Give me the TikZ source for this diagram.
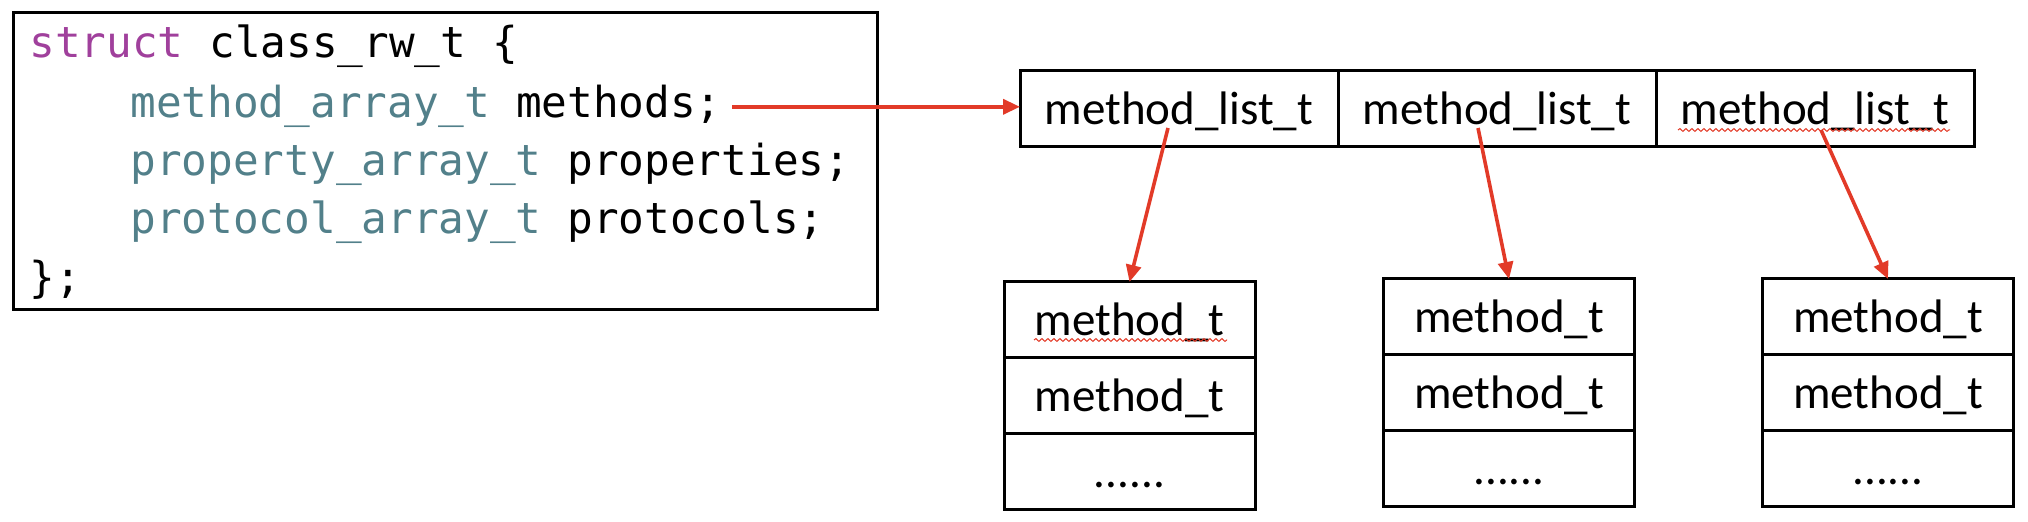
\documentclass[tikz,border=0pt]{standalone}
\usepackage{fontspec}
\usepackage{tikz}
\usetikzlibrary{positioning,arrows.meta,decorations.pathmorphing}
\newfontfamily\codefont{DejaVu Sans Mono}
\newfontfamily\boxfont{Carlito}
\definecolor{kwpurple}{RGB}{160,64,156}
\definecolor{typeteal}{RGB}{82,128,138}
\definecolor{arrowred}{RGB}{226,58,40}
\tikzset{
	codeline/.style={anchor=base west,inner sep=0pt,font=\codefont\fontsize{21.35}{25}\selectfont},
	listcell/.style={draw,line width=1.5pt,minimum width=159pt,minimum height=38pt,inner sep=0pt,outer sep=0pt,text height=16pt,text depth=0pt,font=\boxfont\fontsize{23.5}{27}\selectfont},
	methcell/.style={listcell,minimum width=125.5pt},
	ptr/.style={draw=arrowred,line width=1.8pt,-{Triangle[length=8.5pt,width=7.5pt]}},
	spell/.style={draw=arrowred,line width=0.5pt,decorate,decoration={snake,segment length=3pt,amplitude=0.7pt}}
}
\begin{document}
\begin{tikzpicture}[x=0.5pt,y=-0.5pt]
	\useasboundingbox (0,0) rectangle (2028,522);
	% the struct
	\draw[line width=1.5pt] (13,13) rectangle (877,310);
	\node[codeline] (ln1) at (29,58) {\textcolor{kwpurple}{struct} class\_rw\_t \{};
	\node[codeline] (ln2) at (130,118) {\textcolor{typeteal}{method\_array\_t} methods;};
	\node[codeline] (ln3) at (130,176) {\textcolor{typeteal}{property\_array\_t} properties;};
	\node[codeline] (ln4) at (130,234) {\textcolor{typeteal}{protocol\_array\_t} protocols;};
	\node[codeline] (ln5) at (29,293) {\};};
	% the array of lists
	\node[listcell] (l1) at (1179,109) {method\_list\_t};
	\node[listcell,right=0pt of l1] (l2) {method\_list\_t};
	\node[listcell,right=0pt of l2] (l3) {method\_list\_t};
	% the lists
	\node[methcell] (m1a) at (1129.5,320) {method\_t};
	\node[methcell,below=0pt of m1a] (m1b) {method\_t};
	\node[methcell,below=0pt of m1b] (m1c) {......};
	\node[methcell] (m2a) at (1509,317) {method\_t};
	\node[methcell,below=0pt of m2a] (m2b) {method\_t};
	\node[methcell,below=0pt of m2b] (m2c) {......};
	\node[methcell] (m3a) at (1888,317) {method\_t};
	\node[methcell,below=0pt of m3a] (m3b) {method\_t};
	\node[methcell,below=0pt of m3b] (m3c) {......};
	% spell check marks
	\draw[spell] (1678,130) -- (1950,130);
	\draw[spell] (1034,340) -- (1227,340);
	% pointers
	\coordinate (s0) at ([xshift=5pt]ln2.east);
	\coordinate (s1) at ([shift={(-11,19)}]l1.center);
	\coordinate (s2) at ([shift={(-19,19)}]l2.center);
	\coordinate (s3) at ([shift={(6,21)}]l3.center);
	\draw[ptr] (s0) -- (s0 -| l1.west);
	\draw[ptr] (s1) -- (m1a.north);
	\draw[ptr] (s2) -- (m2a.north);
	\draw[ptr] (s3) -- (m3a.north);
\end{tikzpicture}
\end{document}
